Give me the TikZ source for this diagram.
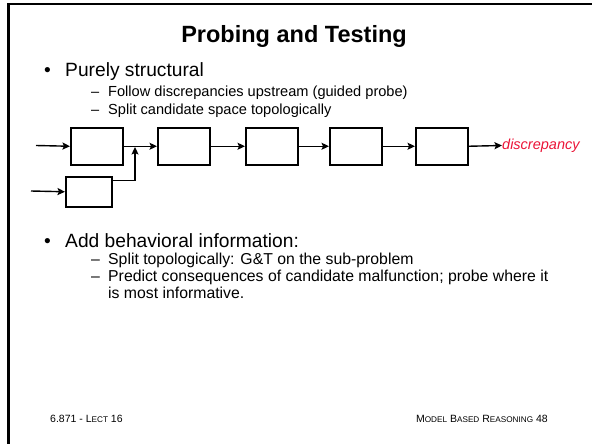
\documentclass[tikz,border=0pt]{standalone}
\usepackage{fontspec}
\setmainfont{Liberation Sans}
\usetikzlibrary{arrows.meta}
\definecolor{discred}{RGB}{235,20,55}
\begin{document}
\begin{tikzpicture}[x=1pt,y=-1pt,
  box/.style={draw,line width=1.5pt,minimum width=52pt,minimum height=37pt,inner sep=0pt,anchor=north west},
  sbox/.style={draw,line width=1.5pt,minimum width=46pt,minimum height=30pt,inner sep=0pt,anchor=north west},
  conn/.style={line width=1.4pt,-{Stealth[length=7.5pt,width=7pt,inset=1.5pt]}},
  lvl1/.style={anchor=base west,inner sep=0pt,font=\fontsize{19.2}{22}\selectfont},
  lvl2/.style={anchor=base west,inner sep=0pt,font=\fontsize{14.6}{17}\selectfont},
  lvl2b/.style={anchor=base west,inner sep=0pt,font=\fontsize{15.8}{18}\selectfont},
  foot/.style={anchor=base west,inner sep=0pt,font=\fontsize{10.5}{12}\selectfont}]
\useasboundingbox (0,0) rectangle (592,444);
% frame
\draw[line width=2.4pt] (8.5,444) -- (8.5,4) -- (592,4);
% title
\node[anchor=base,inner sep=0pt,font=\fontsize{23.5}{28}\bfseries] (title) at (294,43) {Probing and Testing};
% first block
\node[lvl1] (b1) at (44,77) {•};
\node[lvl1] (t1) at (65,77) {Purely structural};
\node[lvl2] (d1) at (91,96) {–};
\node[lvl2] (t11) at (108,96) {Follow discrepancies upstream (guided probe)};
\node[lvl2] (d2) at (91,114) {–};
\node[lvl2] (t12) at (108,114) {Split candidate space topologically};
% diagram
\node[box] (c1) at (70,127) {};
\node[box] (c2) at (157,127) {};
\node[box] (c3) at (245,127) {};
\node[box] (c4) at (329,127) {};
\node[box] (c5) at (415,127) {};
\node[sbox] (s) at (65,176) {};
\coordinate (in1) at (36,145.5);
\coordinate (in2) at (31,191);
\coordinate (merge) at (135,147);
\node[anchor=west,inner sep=0pt,text=discred,font=\fontsize{14.5}{17}\selectfont\itshape] (disc) at (502,145.5) {discrepancy};
\draw[conn] (in1) -- (c1.west);
\draw[conn] (in2) -- (s.west);
\draw[conn] (c1.east) -- (c2.west);
\draw[conn] ([yshift=11pt]s.east) -| (merge);
\draw[conn] (c2.east) -- (c3.west);
\draw[conn] (c3.east) -- (c4.west);
\draw[conn] (c4.east) -- (c5.west);
\draw[conn] (c5.east) -- (disc.west);
% second block
\node[lvl1] (b2) at (44,247) {•};
\node[lvl1] (t2) at (65,247) {Add behavioral information:};
\node[lvl2b] (d3) at (91,264) {–};
\node[lvl2b] (t21) at (108,264) {Split topologically: G\&T on the sub-problem};
\node[lvl2b] (d4) at (91,281) {–};
\node[lvl2b] (t22) at (108,281) {Predict consequences of candidate malfunction; probe where it};
\node[lvl2b] (t23) at (108,298) {is most informative.};
% footer
\node[foot] (fl) at (50,422) {6.871 - L{\fontsize{8.2}{9}\selectfont ECT} 16};
\node[foot,anchor=base east] (fr) at (548,422) {M{\fontsize{8.2}{9}\selectfont ODEL} B{\fontsize{8.2}{9}\selectfont ASED} R{\fontsize{8.2}{9}\selectfont EASONING} 48};
\end{tikzpicture}
\end{document}
